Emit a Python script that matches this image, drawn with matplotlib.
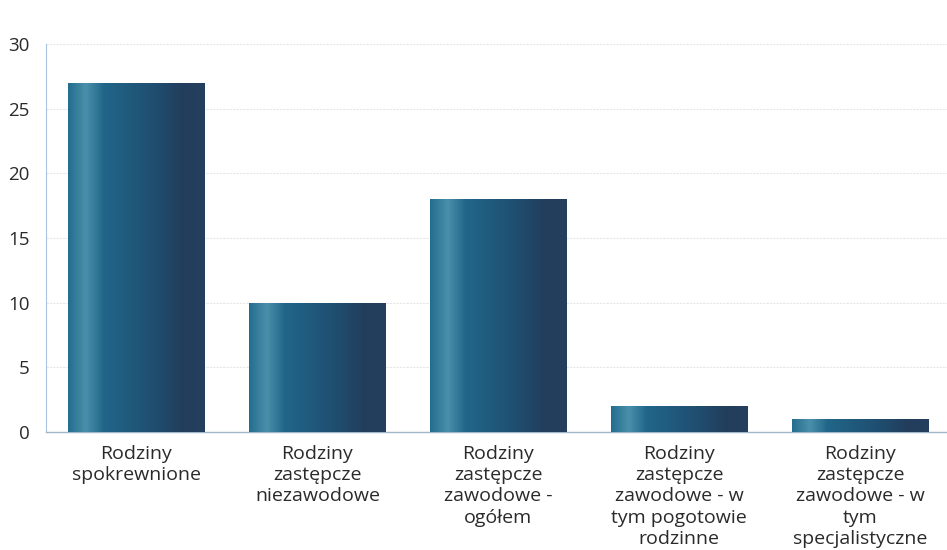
import matplotlib.pyplot as plt
import numpy as np
from matplotlib.colors import LinearSegmentedColormap

categories = [
    "Rodziny\nspokrewnione",
    "Rodziny\nzastępcze\nniezawodowe",
    "Rodziny\nzastępcze\nzawodowe -\nogółem",
    "Rodziny\nzastępcze\nzawodowe - w\ntym pogotowie\nrodzinne",
    "Rodziny\nzastępcze\nzawodowe - w\ntym\nspecjalistyczne",
]
values = [27, 10, 18, 2, 1]
y_ticks = [0, 5, 10, 15, 20, 25, 30]

plt.rcParams["font.family"] = ["Open Sans", "DejaVu Sans"]

bar_cmap = LinearSegmentedColormap.from_list(
    "cyl",
    [(0.0, "#256d8e"), (0.13, "#4a90ab"), (0.26, "#216689"),
     (0.6, "#1f5072"), (0.85, "#233d5c"), (1.0, "#24405e")],
)

fig = plt.figure(figsize=(9.47, 5.5), dpi=100)
ax = fig.add_axes([0.0486, 0.2145, 0.9514, 0.7055])

x = np.arange(len(values))
bars = ax.bar(x, values, width=0.755, color="none", edgecolor="none", zorder=3)

# cylinder-like horizontal gradient for each bar
grad = np.linspace(0, 1, 256).reshape(1, -1)
for b in bars:
    x0, y0 = b.get_x(), b.get_y()
    w, h = b.get_width(), b.get_height()
    im = ax.imshow(grad, cmap=bar_cmap, aspect="auto",
                   extent=[x0, x0 + w, y0, y0 + h], zorder=3,
                   interpolation="bicubic")
    im.set_clip_path(b)

ax.set_xlim(-0.5, 4.48)
ax.set_ylim(0, 30)
ax.set_yticks(y_ticks)
ax.set_xticks(x)
ax.set_xticklabels(categories, fontsize=14, color="#2a2a2a", linespacing=1.24)
ax.tick_params(axis="y", labelsize=13.5, colors="#2a2a2a", length=0, pad=12)
ax.tick_params(axis="x", length=0, pad=9)

ax.yaxis.grid(True, color="#e6e6e6", linewidth=0.8, linestyle=(0, (2, 1)), zorder=0)
ax.set_axisbelow(True)

for side in ["top", "right"]:
    ax.spines[side].set_visible(False)
ax.spines["left"].set_color("#a9c4e0")
ax.spines["left"].set_linewidth(0.8)
ax.spines["bottom"].set_color("#9fb6c8")
ax.spines["bottom"].set_linewidth(1.0)

fig.savefig("out.png", dpi=100)
plt.close(fig)
